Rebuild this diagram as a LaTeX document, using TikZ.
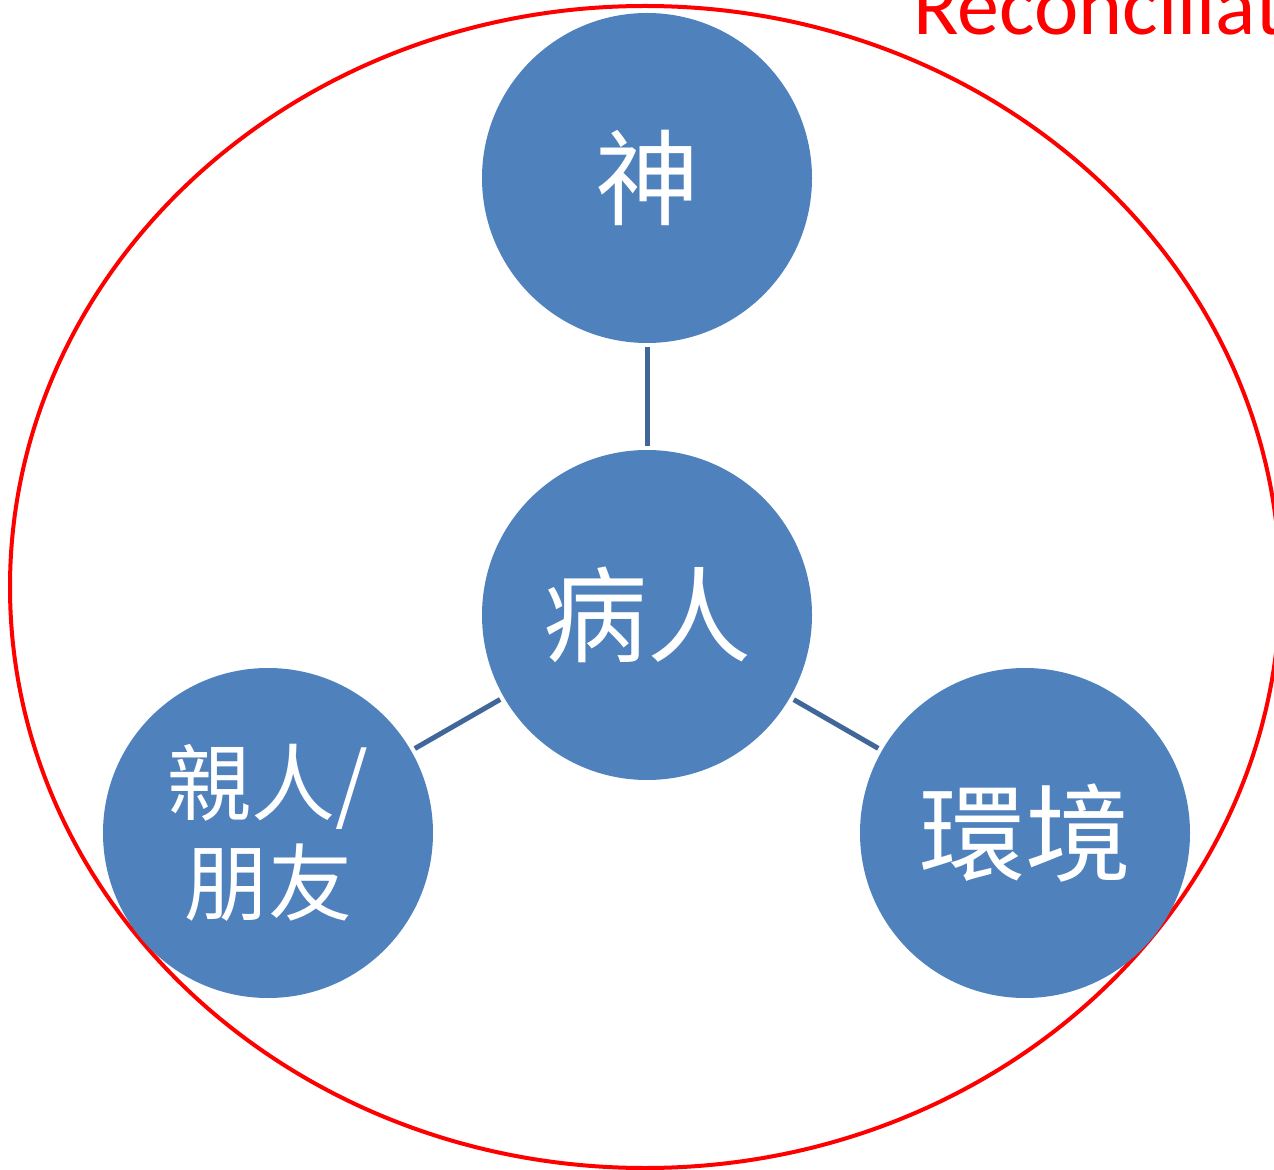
\documentclass[tikz,border=0pt]{standalone}
\usepackage{fontspec}
\setmainfont{Carlito}[Ligatures=NoCommon]
\newfontfamily\cjk{Noto Sans CJK TC}
\usetikzlibrary{positioning}

\definecolor{circblue}{HTML}{4F81BD}
\definecolor{linkblue}{HTML}{41679A}
\definecolor{ringred}{HTML}{FF0000}

\begin{document}
\begin{tikzpicture}[x=0.5pt, y=-0.5pt,
    topic/.style={circle, fill=circblue, minimum size=165pt, inner sep=0pt, text=white, align=center},
    link/.style={draw=linkblue, line width=2.5pt, shorten >=2pt, shorten <=2pt}]
            \useasboundingbox (0, 0) rectangle (1274, 1170);
            \clip (0, 0) rectangle (1274, 1170);

            \draw[ringred, line width=2pt] (645, 587) ellipse [x radius=635, y radius=581];
            \node[anchor=base west, inner sep=0pt, text=ringred, font=\fontsize{42pt}{48pt}\selectfont] (title) at (913, 35) {Reconciliation};

            \node[topic, font=\cjk\fontsize{52pt}{56pt}\selectfont] (god) at (647, 178) {神};
            \node[topic, font=\cjk\fontsize{52pt}{56pt}\selectfont] (patient) at (647, 615) {病人};
            \node[topic, font=\cjk\fontsize{42pt}{50pt}\selectfont] (family) at (268, 833) {親人/\\朋友};
            \node[topic, font=\cjk\fontsize{53pt}{56pt}\selectfont] (world) at (1025, 833) {環境};

            \draw[link] (god) -- (patient);
            \draw[link] (patient) -- (family);
            \draw[link] (patient) -- (world);
        \end{tikzpicture}
\end{document}
